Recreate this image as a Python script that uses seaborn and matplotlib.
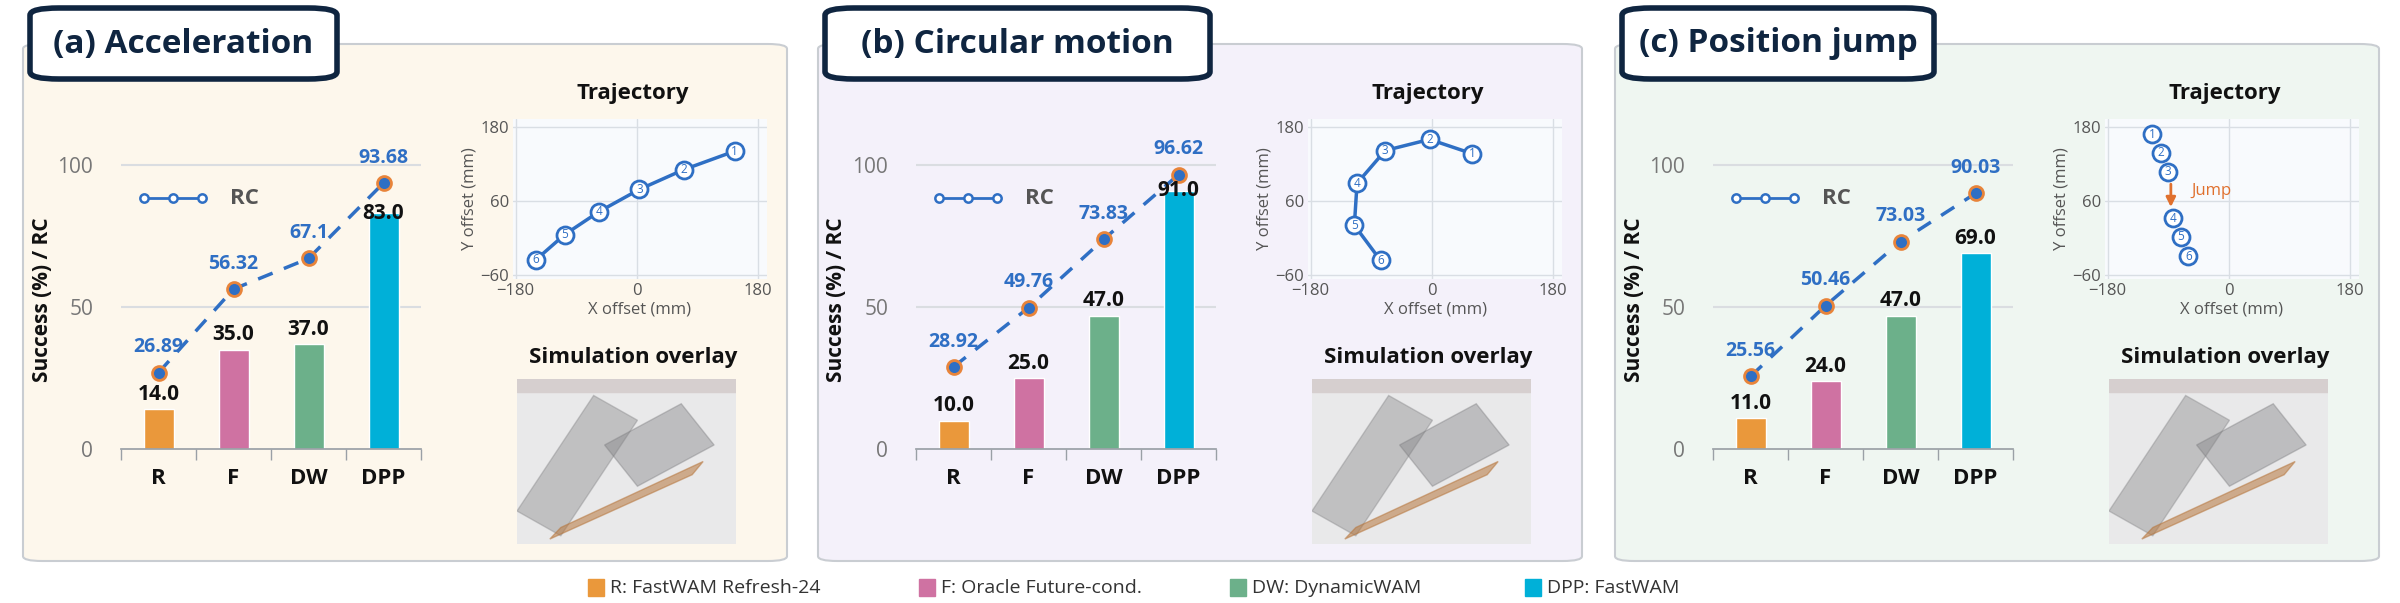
import matplotlib
matplotlib.use("Agg")
import matplotlib.pyplot as plt
import seaborn as sns
import pandas as pd
import numpy as np
from matplotlib.patches import FancyBboxPatch, Rectangle, Polygon
from matplotlib.lines import Line2D

sns.set_theme(style="white")
plt.rcParams['font.family'] = ['Open Sans', 'DejaVu Sans']

# ---------------- data ----------------
categories = ["R", "F", "DW", "DPP"]
legend_labels = ["R: FastWAM Refresh-24", "F: Oracle Future-cond.", "DW: DynamicWAM", "DPP: FastWAM"]
panel_titles = ["(a) Acceleration", "(b) Circular motion", "(c) Position jump"]
success_a = [14.0, 35.0, 37.0, 83.0]
success_b = [10.0, 25.0, 47.0, 91.0]
success_c = [11.0, 24.0, 47.0, 69.0]
rc_a = [26.89, 56.32, 67.1, 93.68]
rc_b = [28.92, 49.76, 73.83, 96.62]
rc_c = [25.56, 50.46, 73.03, 90.03]
rc_text_a = ["26.89", "56.32", "67.1", "93.68"]
rc_text_b = ["28.92", "49.76", "73.83", "96.62"]
rc_text_c = ["25.56", "50.46", "73.03", "90.03"]
traj_a_x = [146, 70, 4, -56, -107, -150]
traj_a_y = [141, 111, 79, 43, 6, -35]
traj_b_x = [60, -3, -69, -111, -115, -76]
traj_b_y = [137, 160, 142, 89, 21, -36]
traj_c_x = [-114, -101, -90, -83, -71, -60]
traj_c_y = [168, 138, 108, 32, 2, -29]
traj_ticks = [-180, 0, 180]
traj_yticks = [-60, 60, 180]

success = [success_a, success_b, success_c]
rcs = [rc_a, rc_b, rc_c]
rc_texts = [rc_text_a, rc_text_b, rc_text_c]
trajs = [(traj_a_x, traj_a_y), (traj_b_x, traj_b_y), (traj_c_x, traj_c_y)]

bar_colors = ["#EA983B", "#CF72A2", "#6CB08A", "#00B0D8"]
panel_bg = ["#FDF7EC", "#F4F1FA", "#EFF6F1"]
blue = "#2F6FC4"
navy = "#0F2540"

W, H = 2400, 603
fig = plt.figure(figsize=(24, 6.03), dpi=100)
fig.patch.set_facecolor("white")

def fx(px): return px / W
def fy(py): return 1 - py / H
def rect(x0, y0, x1, y1): return [fx(x0), fy(y1), fx(x1) - fx(x0), fy(y0) - fy(y1)]

offsets = [23, 818, 1615]
pw = 764

for i, ox in enumerate(offsets):
    fig.patches.append(FancyBboxPatch((fx(ox), fy(561)), fx(pw), fy(44) - fy(561),
                                      boxstyle="round,pad=0,rounding_size=0.008",
                                      transform=fig.transFigure, facecolor=panel_bg[i],
                                      edgecolor="#C9CDD2", linewidth=1.5, zorder=-10))
    tw = [307, 385, 312][i]
    fig.patches.append(FancyBboxPatch((fx(ox + 7), fy(79)), fx(tw), fy(8) - fy(79),
                                      boxstyle="round,pad=0,rounding_size=0.012",
                                      transform=fig.transFigure, facecolor="white",
                                      edgecolor=navy, linewidth=4, zorder=5))
    fig.text(fx(ox + 7 + tw / 2), fy(44), panel_titles[i], ha="center", va="center",
             fontsize=24, fontweight="bold", color=navy, zorder=6)

    # bar chart
    ax = fig.add_axes(rect(ox + 98, 131, ox + 398, 449))
    ax.set_facecolor("none")
    df = pd.DataFrame({"cat": categories, "val": success[i]})
    sns.barplot(data=df, x="cat", y="val", hue="cat", palette=bar_colors, width=0.4,
                saturation=1, legend=False, ax=ax, zorder=2)
    ax.set_ylim(0, 112)
    ax.set_xlim(-0.5, 3.5)
    ax.set_yticks([0, 50, 100])
    ax.set_yticklabels(["0", "50", "100"], color="#777777", fontsize=15)
    for yv in [50, 100]:
        ax.axhline(yv, color="#DADDE1", lw=1.5, zorder=0)
    for s in ["top", "right", "left"]:
        ax.spines[s].set_visible(False)
    ax.spines["bottom"].set_color("#9AA0A6")
    ax.set_xticks([-0.5, 0.5, 1.5, 2.5, 3.5], minor=True)
    ax.tick_params(axis="x", which="minor", length=8, color="#9AA0A6", bottom=True)
    ax.tick_params(axis="x", which="major", length=0, pad=14)
    ax.tick_params(axis="y", length=0, pad=20)
    ax.set_xticks(range(4))
    ax.set_xticklabels(categories, fontsize=16, fontweight="bold", color="#111111")
    ax.set_xlabel("")
    ax.set_ylabel("")
    for j, v in enumerate(success[i]):
        if j == 3 and i < 2:
            ax.annotate(f"{v:.1f}", (j, v), xytext=(0, 0), textcoords="offset points",
                        ha="center", va="center", fontsize=15, fontweight="bold",
                        color="#111111", zorder=4)
        else:
            ax.annotate(f"{v:.1f}", (j, v), xytext=(0, 3), textcoords="offset points",
                        ha="center", va="bottom", fontsize=15, fontweight="bold",
                        color="#111111", zorder=4)
    ax.plot(range(4), rcs[i], ls=(0, (4.5, 3.5)), color=blue, lw=2.5, zorder=3,
            marker="o", markersize=10, markerfacecolor=blue, markeredgecolor="#E8843A",
            markeredgewidth=2)
    for j, v in enumerate(rcs[i]):
        ax.annotate(rc_texts[i][j], (j, v), xytext=(0, 11), textcoords="offset points",
                    ha="center", va="bottom", fontsize=14, fontweight="bold", color=blue, zorder=4)
    fig.text(fx(ox + 19), fy(300), "Success (%) / RC", rotation=90, ha="center", va="center",
             fontsize=15, fontweight="bold", color="#111111")
    fig.lines.append(Line2D([fx(ox + 121), fx(ox + 150), fx(ox + 179)], [fy(198)] * 3,
                            transform=fig.transFigure, color=blue, lw=2, marker="o",
                            markersize=6, markerfacecolor="white", markeredgecolor=blue,
                            markeredgewidth=1.8))
    fig.text(fx(ox + 207), fy(198), "RC", ha="left", va="center", fontsize=16,
             fontweight="bold", color="#555555")

    # trajectory
    tax = fig.add_axes(rect(ox + 490, 119, ox + 744, 279))
    tax.set_facecolor("#F8FAFD")
    tx, ty = trajs[i]
    tdf = pd.DataFrame({"x": tx, "y": ty})
    if i < 2:
        tax.plot(tx, ty, color=blue, lw=2.5, zorder=2)
    sns.scatterplot(data=tdf, x="x", y="y", s=150, color="white", edgecolor=blue,
                    linewidth=2, ax=tax, zorder=3)
    for xx, yy, n in zip(tx, ty, range(1, 7)):
        tax.text(xx, yy, str(n), ha="center", va="center", fontsize=8.5, color=blue, zorder=4)
    if i == 2:
        tax.annotate("", xy=(tx[3] - 3, 46), xytext=(tx[2] + 4, 92),
                     arrowprops=dict(arrowstyle="-|>", color="#E0702E", lw=2, mutation_scale=14))
        tax.text(-56, 77, "Jump", color="#E0702E", fontsize=12, va="center")
    tax.set_xlim(-184, 194)
    tax.set_ylim(-66, 193)
    tax.set_xticks(traj_ticks)
    tax.set_yticks(traj_yticks)
    tax.tick_params(labelsize=12, colors="#555555", length=0, pad=3)
    tax.grid(True, color="#D9DEE4", lw=1)
    tax.set_axisbelow(True)
    for s in tax.spines.values():
        s.set_visible(False)
    tax.set_xlabel("X offset (mm)", fontsize=12, color="#555555", labelpad=2)
    tax.set_ylabel("Y offset (mm)", fontsize=12, color="#555555", labelpad=2)
    fig.text(fx(ox + 610), fy(94), "Trajectory", ha="center", va="center",
             fontsize=16, fontweight="bold", color="#111111")
    fig.text(fx(ox + 610), fy(358), "Simulation overlay", ha="center", va="center",
             fontsize=16, fontweight="bold", color="#111111")

    # simulation overlay placeholder
    iax = fig.add_axes(rect(ox + 494, 379, ox + 713, 544))
    iax.set_xlim(0, 1); iax.set_ylim(0, 1)
    iax.set_facecolor("#E9E9EA")
    iax.add_patch(Rectangle((0, 0.92), 1, 0.08, color="#D6CFCF", zorder=1))
    iax.add_patch(Polygon([[0, 0.2], [0.35, 0.9], [0.55, 0.75], [0.2, 0.05]], color="#8E8E90", alpha=0.45))
    iax.add_patch(Polygon([[0.4, 0.6], [0.75, 0.85], [0.9, 0.6], [0.55, 0.35]], color="#7D7D80", alpha=0.4))
    iax.add_patch(Polygon([[0.2, 0.1], [0.85, 0.5], [0.8, 0.42], [0.15, 0.03]], color="#B7773E", alpha=0.55))
    iax.set_xticks([]); iax.set_yticks([])
    for s in iax.spines.values():
        s.set_visible(False)

leg_x = [596, 927, 1238, 1533]
for lx, lab, c in zip(leg_x, legend_labels, bar_colors):
    fig.patches.append(Rectangle((fx(lx - 8), fy(596)), fx(16), fy(579) - fy(596),
                                 transform=fig.transFigure, color=c))
    fig.text(fx(lx + 14), fy(588), lab, ha="left", va="center", fontsize=14, color="#333333")

fig.savefig("out.png", dpi=100, facecolor="white")
